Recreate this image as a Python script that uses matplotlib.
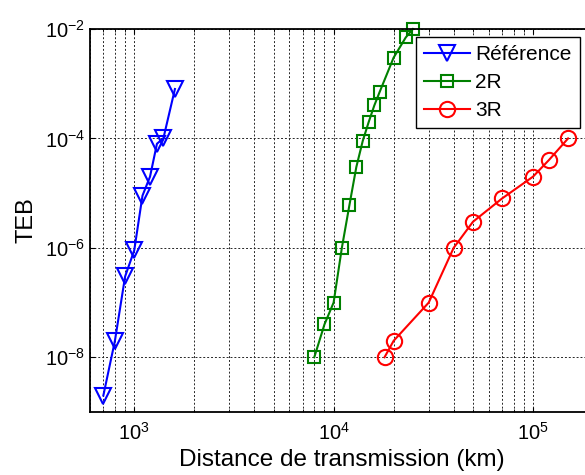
import numpy as np
import matplotlib
matplotlib.use('Agg')
import matplotlib.pyplot as plt
from matplotlib.ticker import LogLocator, NullFormatter

plt.rcParams['font.family'] = ['Liberation Sans', 'DejaVu Sans']
plt.rcParams['mathtext.fontset'] = 'custom'
plt.rcParams['mathtext.rm'] = 'Liberation Sans'

# data
ref_x = [700, 800, 900, 1000, 1100, 1200, 1300, 1400, 1600]
ref_y = [2e-9, 2e-8, 3e-7, 9e-7, 9e-6, 2e-5, 8e-5, 1e-4, 8e-4]

r2_x = [8000, 9000, 10000, 11000, 12000, 13000, 14000, 15000, 16000, 17000, 20000, 23000, 25000]
r2_y = [1e-8, 4e-8, 1e-7, 1e-6, 6e-6, 3e-5, 9e-5, 2e-4, 4e-4, 7e-4, 3e-3, 7e-3, 1e-2]

r3_x = [18000, 20000, 30000, 40000, 50000, 70000, 100000, 120000, 150000]
r3_y = [1e-8, 2e-8, 1e-7, 1e-6, 3e-6, 8e-6, 2e-5, 4e-5, 1e-4]

labels = ['Référence', '2R', '3R']

fig = plt.figure(figsize=(5.85, 4.75), dpi=100)
ax = fig.add_axes([90/585, 1-412/475, (593-90)/585, (412-29)/475])

ax.loglog(ref_x, ref_y, '-v', color=(0, 0, 1), lw=1.5, ms=11, mfc='none', mew=1.5, label=labels[0], clip_on=False)
ax.loglog(r2_x, r2_y, '-s', color=(0, 0.5, 0), lw=1.5, ms=9, mfc='none', mew=1.5, label=labels[1], clip_on=False)
ax.loglog(r3_x, r3_y, '-o', color=(1, 0, 0), lw=1.5, ms=11, mfc='none', mew=1.5, label=labels[2], clip_on=False)

ax.set_xlim(600, 2e5)
ax.set_ylim(1e-9, 1e-2)
ax.set_yticks([1e-8, 1e-6, 1e-4, 1e-2])
ax.yaxis.set_minor_locator(plt.NullLocator())
ax.xaxis.set_minor_locator(LogLocator(base=10, subs=np.arange(2, 10)))
ax.xaxis.set_minor_formatter(NullFormatter())

ax.grid(True, which='major', axis='both', ls=(0, (2, 2)), color='0.15', lw=0.7)
ax.grid(True, which='minor', axis='x', ls=(0, (2, 2)), color='0.15', lw=0.7)
ax.tick_params(which='both', direction='in', labelsize=14.5, top=True, right=True)
ax.tick_params(axis='x', pad=7)
for s in ax.spines.values():
    s.set_linewidth(1.3)

ax.set_xlabel('Distance de transmission (km)', fontsize=17.5, labelpad=4)
ax.set_ylabel('TEB', fontsize=17, labelpad=5)

leg = ax.legend(loc='upper left', bbox_to_anchor=(416/585, 1-37/475), bbox_transform=fig.transFigure,
                borderaxespad=0, fontsize=15, fancybox=False, framealpha=1, edgecolor='black',
                handlelength=2.2, handletextpad=0.25, labelspacing=0.42, borderpad=0.4)
leg.get_frame().set_linewidth(1.0)

fig.savefig('out.png', dpi=100)
